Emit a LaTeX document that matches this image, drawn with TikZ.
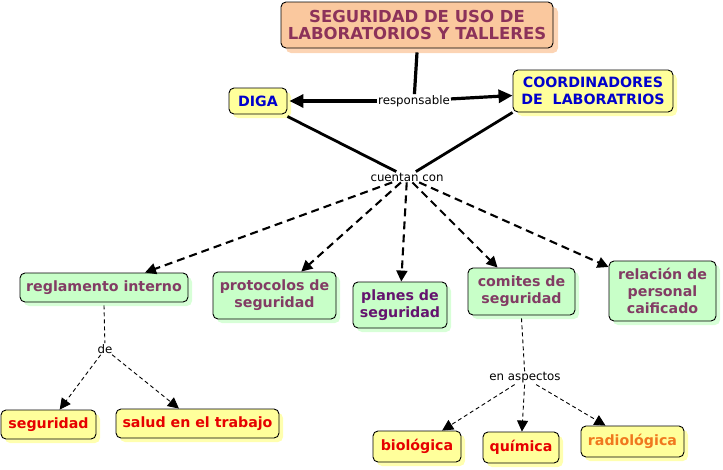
\documentclass[tikz,border=0pt]{standalone}
\usepackage{fontspec}
\setmainfont{DejaVu Sans}
\usetikzlibrary{arrows.meta,shadows}
\definecolor{peach}{RGB}{250,200,158}
\definecolor{peachsh}{RGB}{252,212,180}
\definecolor{ylw}{RGB}{255,255,155}
\definecolor{ylwsh}{RGB}{255,255,175}
\definecolor{grn}{RGB}{200,255,200}
\definecolor{grnsh}{RGB}{215,255,215}
\definecolor{maroon}{RGB}{140,50,90}
\definecolor{mauve}{RGB}{130,60,100}
\definecolor{purp}{RGB}{100,20,110}
\definecolor{blu}{RGB}{0,0,204}
\definecolor{rd}{RGB}{230,0,0}
\definecolor{orng}{RGB}{240,120,30}
\begin{document}
\begin{tikzpicture}[x=1pt,y=-1pt,
  box/.style={draw=black, line width=0.9pt, rounded corners=5pt, align=center, inner sep=0pt,
    font=\bfseries\fontsize{14.2}{17}\selectfont},
  ybox/.style={box, fill=ylw, drop shadow={shadow xshift=4pt, shadow yshift=-4pt, fill=ylwsh, opacity=1}},
  gbox/.style={box, fill=grn, drop shadow={shadow xshift=4pt, shadow yshift=-4pt, fill=grnsh, opacity=1}},
  pbox/.style={box, fill=peach, drop shadow={shadow xshift=5pt, shadow yshift=-5pt, fill=peachsh, opacity=1}},
  lbl/.style={fill=white, inner sep=1pt, font=\fontsize{11.8}{13}\selectfont},
  thickline/.style={line width=3.2pt},
  thickarr/.style={line width=3.2pt, -{Triangle[length=14pt,width=13pt]}},
  midline/.style={line width=2.8pt},
  darr/.style={line width=2.1pt, dash pattern=on 8pt off 5pt, -{Triangle[length=11pt,width=11pt]}},
  tarr/.style={line width=0.9pt, dash pattern=on 4pt off 3pt, -{Triangle[length=11pt,width=11pt]}},
  tline/.style={line width=0.9pt, dash pattern=on 4pt off 3pt}
]
\useasboundingbox (0,0) rectangle (723,469);

\node[pbox, minimum width=272pt, minimum height=46pt, text=maroon,
  font=\bfseries\fontsize{16.5}{17.5}\selectfont] (title) at (417,25)
  {SEGURIDAD DE USO DE\\LABORATORIOS Y TALLERES};
\node[ybox, minimum width=58pt, minimum height=26pt, text=blu] (diga) at (258,101) {DIGA};
\node[ybox, minimum width=160pt, minimum height=42pt, text=blu] (coord) at (593,91)
  {COORDINADORES\\DE\ \ LABORATRIOS};

\node[gbox, minimum width=168pt, minimum height=29pt, text=mauve] (regl) at (104,287.5) {reglamento interno};
\node[gbox, minimum width=123pt, minimum height=47pt, text=mauve] (prot) at (274.5,295.5) {protocolos de\\seguridad};
\node[gbox, minimum width=94pt, minimum height=46pt, text=purp] (plan) at (400,305) {planes de\\seguridad};
\node[gbox, minimum width=107pt, minimum height=47pt, text=mauve] (comi) at (521.5,291.5) {comites de\\seguridad};
\node[gbox, minimum width=107pt, minimum height=60pt, text=mauve] (rel) at (662.5,291) {relación de\\personal\\caificado};

\node[ybox, minimum width=95pt, minimum height=29pt, text=rd] (segu) at (48.5,424.5) {seguridad};
\node[ybox, minimum width=163pt, minimum height=29pt, text=rd] (salud) at (197.5,423.5) {salud en el trabajo};
\node[ybox, minimum width=88pt, minimum height=31pt, text=rd] (bio) at (417,446.5) {biológica};
\node[ybox, minimum width=76pt, minimum height=31pt, text=rd] (quim) at (521,447.5) {química};
\node[ybox, minimum width=103pt, minimum height=31pt, text=orng] (radio) at (632.5,441.5) {radiológica};

\node[lbl] (resp) at (414,101) {responsable};
\node[lbl] (cuen) at (407,177) {cuentan con};
\node[lbl] (de) at (105,349) {de};
\node[lbl] (enasp) at (525,378) {en aspectos};

\draw[thickline] ([yshift=-4pt]title.south) -- (resp);
\draw[thickarr] (resp) -- ([xshift=2pt]diga.east);
\draw[thickarr] (resp) -- (coord);

\draw[midline] ([yshift=-2pt]diga.south east) -- (cuen);
\draw[midline] (coord.south west) -- (cuen);

\draw[darr] (cuen) -- (regl);
\draw[darr] (cuen) -- (prot);
\draw[darr] (cuen) -- (plan);
\draw[darr] (cuen) -- (comi);
\draw[darr] (cuen) -- (rel);

\draw[tline] ([yshift=-3pt]regl.south) -- (de);
\draw[tarr] (de) -- (segu);
\draw[tarr] (de) -- (salud);

\draw[tline] ([yshift=-3pt]comi.south) -- (enasp);
\draw[tarr] (enasp) -- (bio);
\draw[tarr] (enasp) -- (quim);
\draw[tarr] (enasp) -- (radio);
\end{tikzpicture}
\end{document}
